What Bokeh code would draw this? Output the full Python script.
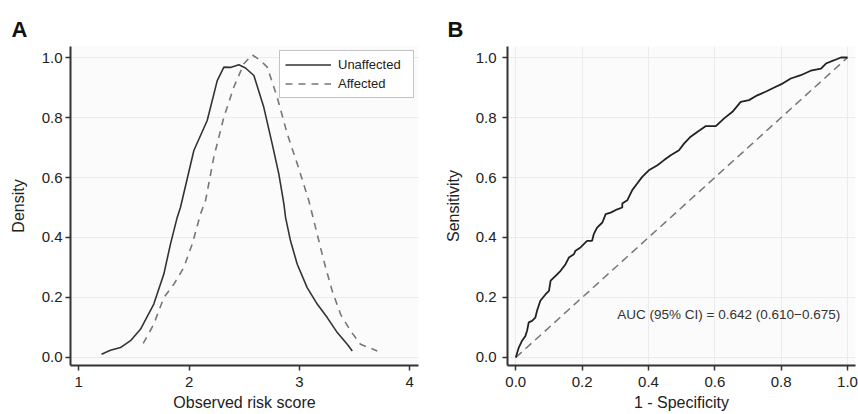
from bokeh.plotting import figure
from bokeh.layouts import row
from bokeh.models import FixedTicker, NumeralTickFormatter, Label
from bokeh.embed import file_html
from bokeh.resources import INLINE

# Panel A: density of observed risk score
score_unaff = [1.206, 1.287, 1.378, 1.469, 1.559, 1.680, 1.771, 1.831, 1.892, 1.922,
               2.043, 2.164, 2.255, 2.315, 2.375, 2.451, 2.511, 2.587, 2.677, 2.753,
               2.813, 2.859, 2.874, 2.919, 2.980, 3.070, 3.161, 3.252, 3.343, 3.433, 3.479]
dens_unaff = [0.011, 0.024, 0.033, 0.056, 0.094, 0.178, 0.278, 0.378, 0.467, 0.501,
              0.690, 0.790, 0.923, 0.968, 0.967, 0.976, 0.965, 0.940, 0.834, 0.712,
              0.612, 0.512, 0.467, 0.389, 0.311, 0.233, 0.178, 0.133, 0.083, 0.044, 0.022]
score_aff = [1.584, 1.680, 1.771, 1.861, 1.952, 2.028, 2.103, 2.149, 2.224, 2.315,
             2.405, 2.496, 2.572, 2.647, 2.708, 2.798, 2.889, 2.980, 3.085, 3.146,
             3.221, 3.297, 3.373, 3.463, 3.553, 3.705]
dens_aff = [0.047, 0.111, 0.200, 0.244, 0.300, 0.378, 0.478, 0.523, 0.668, 0.801,
            0.901, 0.979, 1.009, 0.990, 0.968, 0.868, 0.746, 0.646, 0.523, 0.433,
            0.322, 0.222, 0.144, 0.089, 0.044, 0.022]

# Panel B: ROC curve
fpr = [0.0, 0.009, 0.019, 0.029, 0.034, 0.039, 0.049, 0.059, 0.064, 0.074, 0.090, 0.100,
       0.105, 0.120, 0.135, 0.150, 0.160, 0.175, 0.180, 0.195, 0.205, 0.215, 0.230, 0.235,
       0.245, 0.261, 0.271, 0.286, 0.306, 0.321, 0.321, 0.336, 0.351, 0.366, 0.381, 0.401,
       0.427, 0.447, 0.467, 0.492, 0.507, 0.527, 0.547, 0.572, 0.603, 0.628, 0.653, 0.678,
       0.703, 0.728, 0.753, 0.779, 0.804, 0.829, 0.859, 0.889, 0.920, 0.935, 0.960, 0.980, 1.0]
tpr = [0.0, 0.033, 0.056, 0.072, 0.089, 0.117, 0.122, 0.133, 0.156, 0.189, 0.211, 0.222,
       0.256, 0.272, 0.289, 0.311, 0.333, 0.344, 0.356, 0.367, 0.378, 0.389, 0.389, 0.411,
       0.433, 0.450, 0.478, 0.483, 0.494, 0.500, 0.513, 0.524, 0.558, 0.580, 0.602, 0.624,
       0.641, 0.658, 0.674, 0.691, 0.713, 0.736, 0.752, 0.771, 0.771, 0.797, 0.819, 0.852,
       0.858, 0.874, 0.886, 0.900, 0.913, 0.930, 0.941, 0.956, 0.963, 0.980, 0.991, 1.0, 1.0]
diag_x = [0.0, 1.0]
diag_y = [0.0, 1.0]

y_ticks = [0.0, 0.2, 0.4, 0.6, 0.8, 1.0]
a_x_ticks = [1, 2, 3, 4]
b_x_ticks = [0.0, 0.2, 0.4, 0.6, 0.8, 1.0]
auc_text = "AUC (95% CI) = 0.642 (0.610\u22120.675)"

FONT = "Liberation Sans"


def style(p, letter, offset):
    p.title.text = letter
    p.title.text_font = FONT
    p.title.text_font_size = "22px"
    p.title.text_font_style = "bold"
    p.title.text_color = "#111111"
    p.title.align = "left"
    p.title.offset = offset
    p.background_fill_color = "#fbfbfb"
    p.border_fill_color = "white"
    p.outline_line_color = None
    for ax in p.axis:
        ax.axis_line_color = "#333333"
        ax.axis_line_width = 2
        ax.major_tick_line_color = "#333333"
        ax.major_tick_line_width = 1.5
        ax.major_tick_out = 5
        ax.major_tick_in = 0
        ax.minor_tick_line_color = None
        ax.major_label_text_font = FONT
        ax.major_label_text_font_size = "15px"
        ax.major_label_text_color = "#222222"
        ax.axis_label_text_font = FONT
        ax.axis_label_text_font_size = "16px"
        ax.axis_label_text_font_style = "normal"
        ax.axis_label_text_color = "#222222"
    p.grid.grid_line_color = "#ebebeb"
    p.grid.grid_line_width = 1
    p.yaxis.ticker = FixedTicker(ticks=y_ticks)
    p.yaxis.formatter = NumeralTickFormatter(format="0.0")
    p.xaxis.major_label_standoff = 6
    p.xaxis.axis_label_standoff = 4


pA = figure(width=430, height=414, x_range=(0.925, 4.079), y_range=(-0.0267, 1.0367),
            output_backend="svg", toolbar_location=None,
            min_border_left=70, min_border_right=12, min_border_top=46, min_border_bottom=49)
style(pA, "A", -59)
pA.xgrid.visible = False
pA.xaxis.ticker = FixedTicker(ticks=a_x_ticks)
pA.xaxis.axis_label = "Observed risk score"
pA.yaxis.axis_label = "Density"
pA.yaxis.major_label_standoff = 3
pA.yaxis.axis_label_standoff = 12

pA.line(score_unaff, dens_unaff, line_color="#333333", line_width=1.6, legend_label="Unaffected")
pA.line(score_aff, dens_aff, line_color="#777777", line_width=1.6, line_dash="7 6",
        legend_label="Affected")

lg = pA.legend[0]
lg.location = "top_right"
lg.margin = 4
lg.padding = 5
lg.spacing = 2
lg.glyph_width = 46
lg.glyph_height = 17
lg.label_height = 17
lg.label_width = 70
lg.label_standoff = 7
lg.label_text_font = FONT
lg.label_text_font_size = "13px"
lg.label_text_color = "#222222"
lg.border_line_color = "#888888"
lg.border_line_width = 1
lg.background_fill_color = "white"
lg.background_fill_alpha = 1.0

pB = figure(width=428, height=414, x_range=(-0.025, 1.024), y_range=(-0.0267, 1.0367),
            output_backend="svg", toolbar_location=None,
            min_border_left=77, min_border_right=3, min_border_top=46, min_border_bottom=49)
style(pB, "B", -60)
pB.xaxis.ticker = FixedTicker(ticks=b_x_ticks)
pB.xaxis.formatter = NumeralTickFormatter(format="0.0")
pB.xaxis.axis_label = "1 - Specificity"
pB.yaxis.axis_label = "Sensitivity"
pB.yaxis.major_label_standoff = 6
pB.yaxis.axis_label_standoff = 11

pB.line(diag_x, diag_y, line_color="#777777", line_width=1.5, line_dash="8 5")
pB.line(fpr, tpr, line_color="#222222", line_width=1.8)
pB.add_layout(Label(x=0.306, y=0.142, text=auc_text, text_baseline="middle",
                    text_align="left", text_font=FONT, text_font_size="13.5px",
                    text_color="#333333"))

layout = row(pA, pB)
open("out.html", "w").write(file_html(layout, INLINE))
